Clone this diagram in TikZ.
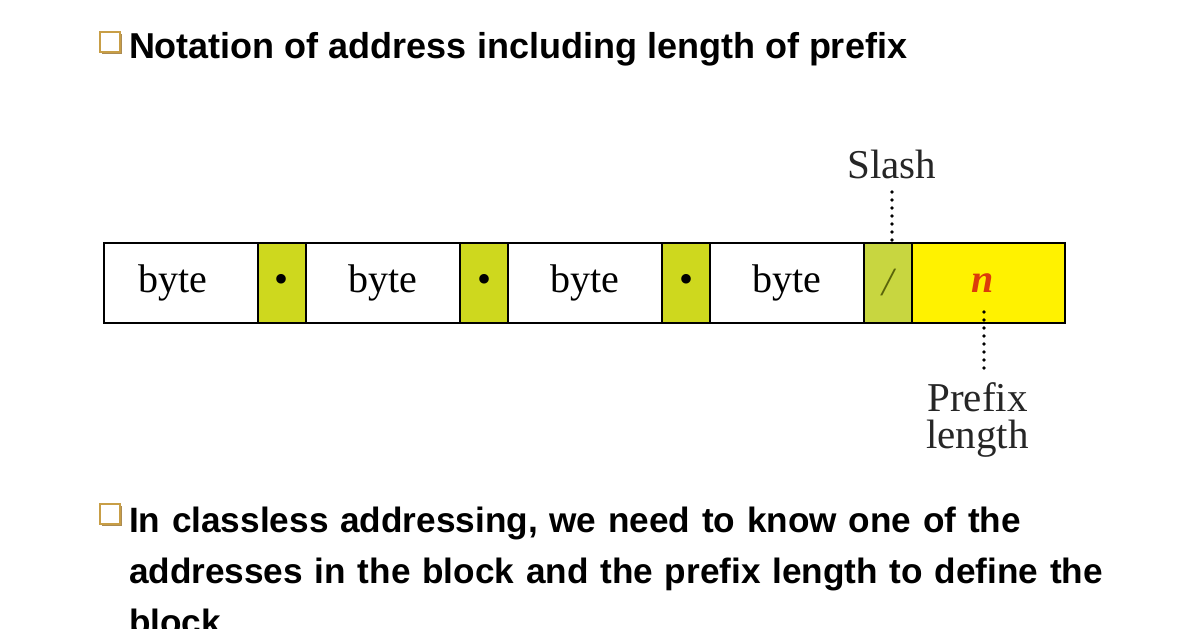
\documentclass[tikz,border=0pt]{standalone}
\usepackage{fontspec}
\setmainfont{Liberation Serif}
\newfontfamily\slidefont{Liberation Sans}
\usetikzlibrary{positioning,shadows}
\definecolor{dotgreen}{RGB}{206,216,30}
\definecolor{slashgreen}{RGB}{200,214,64}
\definecolor{slashink}{RGB}{90,100,10}
\definecolor{prefixyellow}{RGB}{255,242,0}
\definecolor{nred}{RGB}{220,60,10}
\definecolor{bulletgold}{RGB}{200,158,70}
\definecolor{bulletshade}{RGB}{150,110,40}
\tikzset{
	every node/.style = {inner sep = 0, outer sep = 0},
	cell/.style = {draw, line width=1.3pt, minimum height=40pt, font=\fontsize{20}{24}\selectfont},
	bytecell/.style = {cell, minimum width=77pt},
	sepcell/.style = {cell, fill=dotgreen, minimum width=24pt},
	pointer/.style = {line width=1.8pt, line cap=round, dash pattern=on 0pt off 4pt},
	label/.style = {font=\fontsize{20.5}{18.5}\selectfont, text=black!85, align=center},
	bulletbox/.style = {draw=bulletgold, line width=1.3pt, fill=white, minimum size=10pt,
		drop shadow={shadow xshift=0.8pt, shadow yshift=-0.8pt, fill=bulletshade, opacity=0.8}},
	slidetext/.style = {font=\slidefont\bfseries\fontsize{#1}{25.5}\selectfont, anchor=base west}
}
\begin{document}
\begin{tikzpicture}[x=0.5pt, y=-0.5pt]
		\useasboundingbox[fill=white] (0,0) rectangle (1196,628);
		\node(tbullet)[bulletbox] at (110,42) {};
		\node(title)[slidetext=18] at (129,58) {Notation of address including length of prefix};
		
		\node(b1)[bytecell, anchor=west] at (104,283) {byte\hspace*{8pt}};
		\node(d1)[sepcell, right=0pt of b1] {\textbullet};
		\node(b2)[bytecell, right=0pt of d1] {byte};
		\node(d2)[sepcell, right=0pt of b2] {\textbullet};
		\node(b3)[bytecell, right=0pt of d2] {byte};
		\node(d3)[sepcell, right=0pt of b3] {\textbullet};
		\node(b4)[bytecell, right=0pt of d3] {byte};
		\node(sl)[sepcell, fill=slashgreen, right=0pt of b4] {\color{slashink}\itshape/};
		\node(pre)[cell, fill=prefixyellow, minimum width=76.5pt, right=0pt of sl] {\bfseries\itshape\color{nred}n\hspace*{6pt}};
		
		\node(slash)[label, above=32pt of sl, xshift=2pt] {Slash};
		\node(plen)[label, below=30pt of pre, xshift=-5.5pt] {Prefix\\length};
		\path[pointer] (slash.south) ++(0,13) edge ([xshift=2pt,yshift=1.5pt]sl.north);
		\path[pointer] ([xshift=-2.25pt,yshift=5.5pt]pre.south) edge ([xshift=-2.25pt,yshift=-23.5pt]pre.south);
		
		\node(nbullet)[bulletbox] at (110,514) {};
		\node(note)[slidetext=17.6, text width=540pt, align=left] at (129,532) {In classless addressing, we need to know one of the\\addresses in the block and the prefix length to define the\\block};
\end{tikzpicture}
\end{document}
